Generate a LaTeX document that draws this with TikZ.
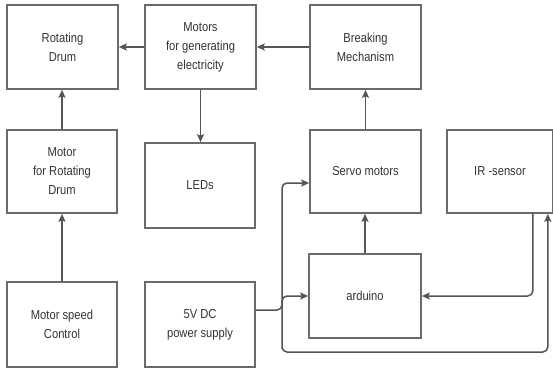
\documentclass[tikz,border=0pt]{standalone}
\usepackage{fontspec}
\setmainfont[FakeStretch=0.86]{Liberation Sans}
\usetikzlibrary{arrows.meta,calc}
\definecolor{boxc}{HTML}{6A6A6A}
\definecolor{linec}{HTML}{555555}
\definecolor{txtc}{HTML}{333333}
\begin{document}
\begin{tikzpicture}[x=1pt,y=-1pt,
  blk/.style={draw=boxc,line width=1.6pt,fill=white,rectangle,inner sep=0pt,
    align=center,text=txtc,font=\fontsize{13}{19}\selectfont},
  conn/.style={draw=linec,line width=1.5pt,rounded corners=5pt},
  arr/.style={conn,-{Stealth[length=8pt,width=7pt,inset=1.5pt]}}
]
\useasboundingbox (0,0) rectangle (553,369);
\fill[white] (0,0) rectangle (553,369);

\node[blk,minimum width=111pt,minimum height=84pt] (drum) at (62.5,47) {Rotating\\Drum};
\node[blk,minimum width=111pt,minimum height=84pt] (gen) at (200.5,47) {Motors\\for generating\\electricity};
\node[blk,minimum width=111pt,minimum height=84pt] (brk) at (365.5,47) {Breaking\\Mechanism};
\node[blk,minimum width=110pt,minimum height=83pt] (mrd) at (62,171.5) {Motor\\for Rotating\\Drum};
\node[blk,minimum width=110pt,minimum height=85pt] (led) at (200,185.5) {LEDs};
\node[blk,minimum width=111pt,minimum height=83pt] (servo) at (365.5,171.5) {Servo motors};
\node[blk,minimum width=106pt,minimum height=83pt] (ir) at (500,171.5) {IR -sensor};
\node[blk,minimum width=110pt,minimum height=85pt] (msc) at (62,324.5) {Motor speed\\Control};
\node[blk,minimum width=110pt,minimum height=85pt] (psu) at (200,324.5) {5V DC\\power supply};
\node[blk,minimum width=112pt,minimum height=84pt] (ard) at (365,296) {arduino};

\coordinate (j) at (282,310);
\coordinate (loop) at (282,352);

\draw[arr] (gen.west) -- (drum.east);
\draw[arr] (brk.west) -- (gen.east);
\draw[arr] (mrd.north) -- (mrd.north |- drum.south);
\draw[arr] (msc.north) -- (msc.north |- mrd.south);
\draw[arr] (gen.south) -- (gen.south |- led.north);
\draw[arr] (servo.north) -- (servo.north |- brk.south);
\draw[arr] (ard.north) -- (ard.north |- servo.south);

\draw[arr] (psu.east |- j) -- (j) |- (ard.west);
\draw[arr] (j) |- ($(servo.west)+(0,11.5)$);
\draw[arr] (j) |- (loop) -| ($(ir.south east)+(-6,0)$);
\draw[arr] ($(ir.south east)+(-21,0)$) |- (ard.east);
\end{tikzpicture}
\end{document}
